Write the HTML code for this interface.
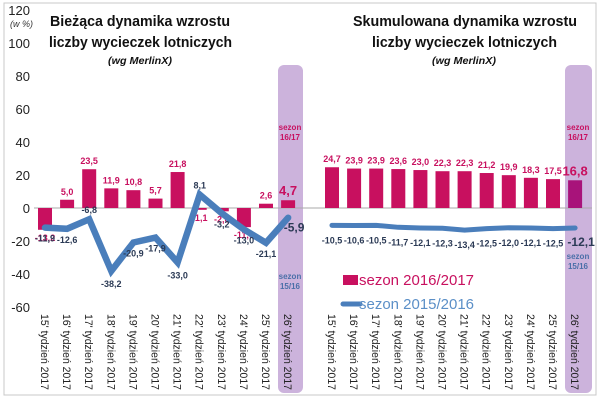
<!DOCTYPE html>
<html><head><meta charset="utf-8"><style>
body{margin:0;background:#fff;}
svg{display:block;font-family:"Liberation Sans",sans-serif;}
</style></head><body>
<svg id="c" width="600" height="400">
<rect x="4" y="3" width="592" height="392" fill="#fff" stroke="#c8c8c8"/>
<rect x="278" y="65" width="25" height="328" rx="6" fill="#ccb3dc"/>
<rect x="565" y="65" width="27" height="328" rx="6" fill="#ccb3dc"/>
<g font-weight="bold" fill="#111">
<text x="50" y="26" font-size="15" textLength="180" lengthAdjust="spacingAndGlyphs">Bieżąca dynamika wzrostu</text>
<text x="49" y="47" font-size="15" textLength="183" lengthAdjust="spacingAndGlyphs">liczby  wycieczek lotniczych</text>
<text x="108" y="64" font-size="10" font-style="italic" textLength="64" lengthAdjust="spacingAndGlyphs">(wg MerlinX)</text>
<text x="353" y="26" font-size="15" textLength="224" lengthAdjust="spacingAndGlyphs">Skumulowana dynamika wzrostu</text>
<text x="372" y="47" font-size="15" textLength="185" lengthAdjust="spacingAndGlyphs">liczby  wycieczek lotniczych</text>
<text x="432" y="64" font-size="10" font-style="italic" textLength="64" lengthAdjust="spacingAndGlyphs">(wg MerlinX)</text>
</g>
<text x="10" y="27" font-size="9" font-style="italic" fill="#333">(w %)</text>
<g fill="#c8105f" font-size="8" font-weight="bold" text-anchor="middle">
<text x="290" y="130">sezon</text>
<text x="290" y="140">16/17</text>
<text x="578" y="130">sezon</text>
<text x="578" y="140">16/17</text>
</g>
<g fill="#4a6fa8" font-size="8" font-weight="bold" text-anchor="middle">
<text x="290" y="279">sezon</text>
<text x="290" y="289">15/16</text>
<text x="578" y="259">sezon</text>
<text x="578" y="269">15/16</text>
</g>
<rect x="343" y="275" width="15" height="10" fill="#c8105f"/>
<text x="359" y="285" font-size="15" fill="#c8105f" textLength="115" lengthAdjust="spacingAndGlyphs">sezon 2016/2017</text>
<line x1="343" y1="304" x2="360" y2="304" stroke="#4a7ebb" stroke-width="5" stroke-linecap="round"/>
<text x="359" y="309" font-size="15" fill="#5b8fc7" textLength="115" lengthAdjust="spacingAndGlyphs">sezon 2015/2016</text>
</svg>
<script>
const categories=["15' tydzień 2017","16' tydzień 2017","17' tydzień 2017","18' tydzień 2017","19' tydzień 2017","20' tydzień 2017","21' tydzień 2017","22' tydzień 2017","23' tydzień 2017","24' tydzień 2017","25' tydzień 2017","26' tydzień 2017"];
const leftBars=[-13.2,5.0,23.5,11.9,10.8,5.7,21.8,-1.1,-2.0,-11.6,2.6,4.7];
const leftLine=[-11.9,-12.6,-6.8,-38.2,-20.9,-17.9,-33.0,8.1,-3.2,-13.0,-21.1,-5.9];
const rightBars=[24.7,23.9,23.9,23.6,23.0,22.3,22.3,21.2,19.9,18.3,17.5,16.8];
const rightLine=[-10.5,-10.6,-10.5,-11.7,-12.1,-12.3,-13.4,-12.5,-12.0,-12.1,-12.5,-12.1];
const yTicks=[120,100,80,60,40,20,0,-20,-40,-60];

const svg=document.getElementById('c');
const NS='http://www.w3.org/2000/svg';
function y(v){return 208-v*1.65;}
function xL(i){return 45+i*22.1;}
function xR(i){return 332+i*22.1;}
function fmt(v){return v.toFixed(1).replace('.',',');}
function mk(tag,attrs,txt){const e=document.createElementNS(NS,tag);for(const k in attrs)e.setAttribute(k,attrs[k]);if(txt!==undefined)e.textContent=txt;svg.appendChild(e);return e;}

yTicks.forEach(t=>{
  const e=mk('text',{x:30,y:y(t)+5,'font-size':13,fill:'#222','text-anchor':'end'},String(t));
  
  
});
let z=mk('line',{x1:34,y1:y(0),x2:303,y2:y(0),stroke:'#aaa'});


z=mk('line',{x1:303,y1:y(0),x2:592,y2:y(0),stroke:'#aaa'});



function drawPanel(xf,bars,line,side){
  bars.forEach((v,i)=>{
    const top=Math.min(y(v),y(0)),h=Math.abs(y(v)-y(0));
    const r=mk('rect',{x:xf(i)-7,y:top,width:14,height:h,fill:(side==='right'&&i===11)?'#a8137a':'#c8105f'});
    
    
    const big=i===11;
    const ty=v>=0?y(v)-5:y(v)+11;
    const t=mk('text',{x:xf(i),y:ty,'font-size':big?13:9,'font-weight':'bold',fill:'#c8105f','text-anchor':'middle'},fmt(v));
    
    
  });
  const pts=line.map((v,i)=>xf(i)+','+y(v)).join(' ');
  const pl=mk('polyline',{points:pts,fill:'none',stroke:'#4a7ebb','stroke-width':side==='left'?6.5:5,'stroke-linejoin':'miter','stroke-linecap':'round'});
  
  
  line.forEach((v,i)=>{
    const big=i===11;
    const ty=side==='right'?y(v)+18:y(v)+(v<-30?16:(i===2||i===7?-6:14));
    const t=mk('text',{x:xf(i)+(big?6:0),y:ty,'font-size':big?12:9,'font-weight':'bold',fill:'#2b3a55','text-anchor':'middle'},fmt(v));
    
    
  });
  categories.forEach((c,i)=>{
    const t=mk('text',{transform:'translate('+(xf(i)-4)+',314) rotate(90)','font-size':11,fill:'#222',textLength:76,lengthAdjust:'spacingAndGlyphs'},c);
    
    
  });
}
drawPanel(xL,leftBars,leftLine,'left');
drawPanel(xR,rightBars,rightLine,'right');
</script>
</body></html>
